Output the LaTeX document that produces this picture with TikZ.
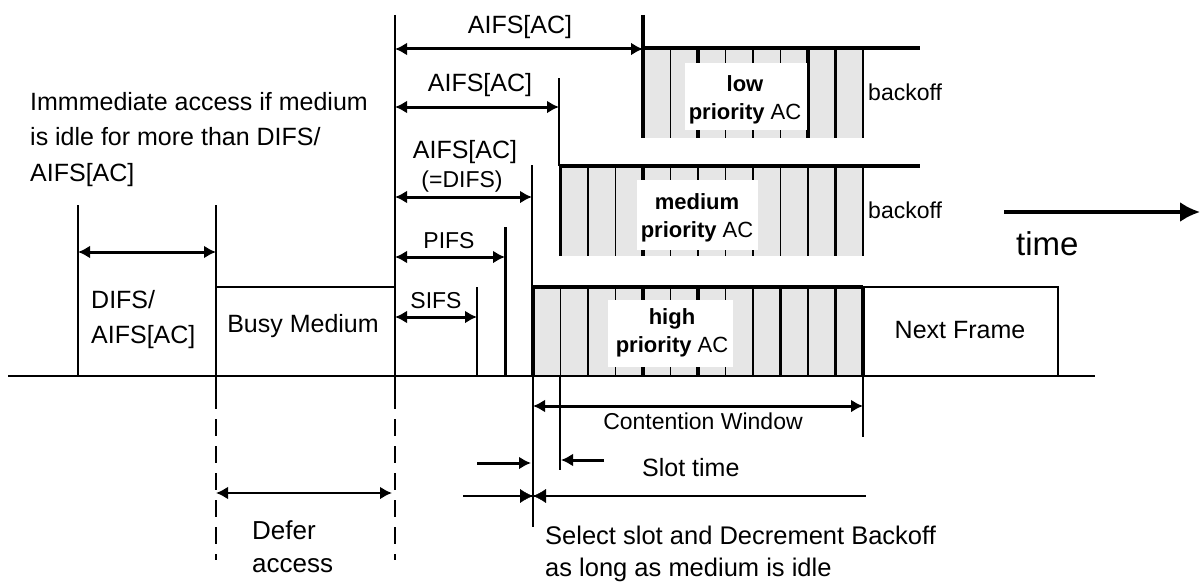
\documentclass[tikz,border=0pt]{standalone}
\usepackage{fontspec}
\setmainfont{Liberation Sans}
\usetikzlibrary{arrows.meta}
\definecolor{slotGray}{HTML}{E6E6E6}

\begin{document}
\begin{tikzpicture}[x=1pt, y=-1pt,
    thinline/.style={line width=1.6pt},
    thickline/.style={line width=3.6pt},
    dimarrow/.style={line width=3pt, {Latex[length=12pt,width=13pt]}-{Latex[length=12pt,width=13pt]}},
    onearrow/.style={line width=3pt, -{Latex[length=12pt,width=13pt]}},
    dashline/.style={line width=1.6pt, dash pattern=on 17pt off 10pt},
    lbl/.style={inner sep=0pt, font=\fontsize{25}{35.5}\selectfont},
    lblsmall/.style={inner sep=0pt, font=\fontsize{23}{28}\selectfont},
    rowlbl/.style={inner sep=0pt, align=center, font=\fontsize{22}{28}\selectfont}]
    \useasboundingbox (0,0) rectangle (1204,586);

    \fill[slotGray] (643,48) rectangle (863,138);
    \fill[slotGray] (560.5,166) rectangle (863,256);
    \fill[slotGray] (533,287) rectangle (863,376);
    \foreach \k in {4,...,12} \draw[thinline] ({533+27.5*\k},48) -- ++(0,90);
    \foreach \k in {6,10,11} \draw[thickline] ({533+27.5*\k},48) -- ++(0,90);
    \foreach \k in {1,...,12} \draw[thinline] ({533+27.5*\k},166) -- ++(0,90);
    \foreach \k in {1,4,11} \draw[thickline] ({533+27.5*\k},166) -- ++(0,90);
    \foreach \k in {0,...,12} \draw[thinline] ({533+27.5*\k},287) -- ++(0,89);
    \foreach \k in {0,4,6,9,11,12} \draw[thickline] ({533+27.5*\k},287) -- ++(0,89);
    \fill[white] (685,63) rectangle (807,130);
    \fill[white] (637,180) rectangle (758,250);
    \fill[white] (608,300) rectangle (733,367);
    \node[rowlbl, anchor=north] (low) at (745,75) {\textbf{low}\\\textbf{priority} AC};
    \node[rowlbl, anchor=north] (med) at (697,193) {\textbf{medium}\\\textbf{priority} AC};
    \node[rowlbl, anchor=north] (high) at (672,308) {\textbf{high}\\\textbf{priority} AC};

    \draw[thickline] (643,48) -- (920,48);
    \draw[thickline] (559,166) -- (920,166);
    \draw[thickline] (533,287) -- (863,287);
    \node[lblsmall, anchor=base west] (bo1) at (868,100) {backoff};
    \node[lblsmall, anchor=base west] (bo2) at (868,218) {backoff};

    \draw[thinline] (8,376) -- (1095,376);
    \draw[thinline] (863,287) -- (1058,287) -- (1058,376);
    \node[lbl, anchor=base] (next) at (960,338) {Next Frame};
    \draw[thinline] (216,287) -- (395,287);
    \node[lbl, anchor=base] (busy) at (303,332) {Busy Medium};

    \draw[thinline] (78,205) -- (78,376);
    \draw[thinline] (216,205) -- (216,392);
    \draw[dashline] (216,392) -- (216,560);
    \draw[thinline] (395,15) -- (395,392);
    \draw[dashline] (395,392) -- (395,560);
    \draw[thickline] (643,15) -- (643,138);
    \draw[thinline] (559,78) -- (559,166);
    \draw[thinline] (532,165) -- (532,287);
    \draw[line width=3pt] (505,227) -- (505,376);
    \draw[thinline] (477,287) -- (477,376);
    \draw[thinline] (533,376) -- (533,527);
    \draw[thinline] (560,376) -- (560,470);
    \draw[thinline] (863,376) -- (863,437);

    \draw[dimarrow] (78,252) -- (216,252);
    \node[lbl, anchor=north west, align=left] (difs) at (91,290) {DIFS/\\AIFS[AC]};
    \node[lbl, anchor=north west, align=left] (immed) at (30,92)
        {Immmediate access if medium\\is idle for more than DIFS/\\AIFS[AC]};

    \draw[dimarrow] (395,49) -- (643,49);
    \node[lbl, anchor=base] (aifs1) at (520,34) {AIFS[AC]};
    \draw[dimarrow] (395,107) -- (559,107);
    \node[lbl, anchor=base] (aifs2) at (480,92) {AIFS[AC]};
    \draw[dimarrow] (395,197) -- (532,197);
    \node[lbl, anchor=base] (aifs3) at (465,158) {AIFS[AC]};
    \node[lblsmall, anchor=base] (difs2) at (462,187) {(=DIFS)};
    \draw[dimarrow] (395,257) -- (505,257);
    \node[lblsmall, anchor=base] (pifs) at (449,248) {PIFS};
    \draw[dimarrow] (395,317) -- (477,317);
    \node[lblsmall, anchor=base] (sifs) at (436,308) {SIFS};

    \draw[dimarrow] (533,406) -- (863,406);
    \node[lblsmall, anchor=base] (cw) at (703,429) {Contention Window};
    \draw[onearrow] (477,463) -- (531,463);
    \draw[onearrow] (604,460) -- (561,460);
    \node[lbl, anchor=base west] (slot) at (642,476) {Slot time};
    \draw[thinline] (463,496) -- (866,496);
    \draw[-{Latex[length=13pt,width=14pt]}] (505,496) -- (533,496);
    \draw[-{Latex[length=13pt,width=14pt]}] (560,496) -- (533,496);
    \node[anchor=north west, align=left, inner sep=0pt, font=\fontsize{25.5}{32}\selectfont] (sel) at (545,526)
        {Select slot and Decrement Backoff\\as long as medium is idle};

    \draw[line width=2.4pt, {Latex[length=12pt,width=13pt]}-{Latex[length=12pt,width=13pt]}] (216,493) -- (392,493);
    \node[anchor=north west, align=left, inner sep=0pt, font=\fontsize{26}{33}\selectfont] (defer) at (252,520)
        {Defer\\access};

    \draw[line width=3.2pt, -{Latex[length=20pt,width=20pt]}] (1004,212) -- (1200,212);
    \node[anchor=base west, inner sep=0pt, font=\fontsize{33}{40}\selectfont] (time) at (1016,255) {time};
\end{tikzpicture}
\end{document}
